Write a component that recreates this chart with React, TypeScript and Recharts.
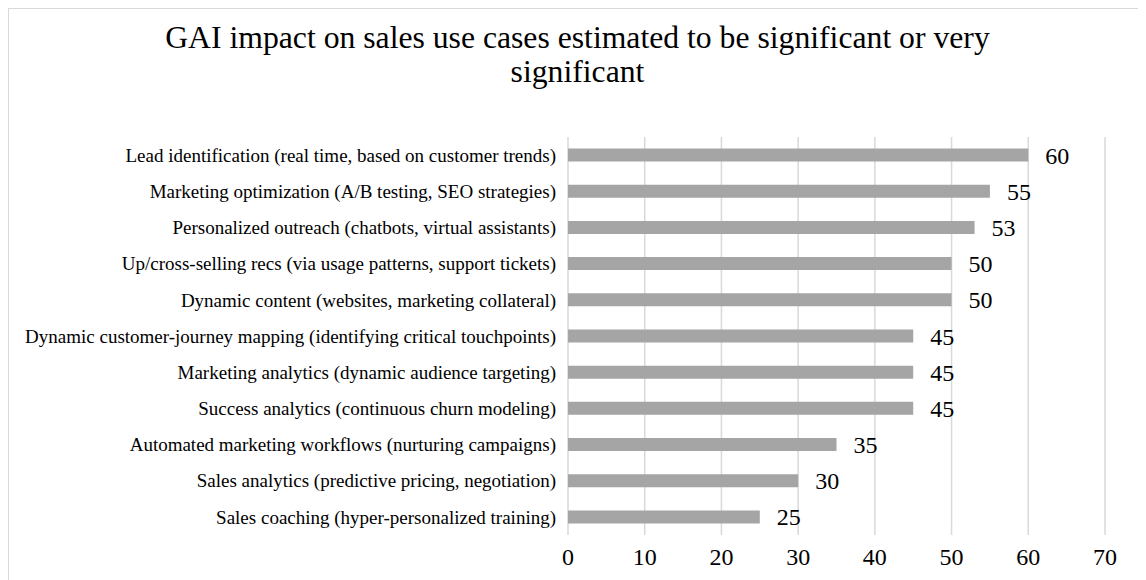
import { BarChart, Bar, XAxis, YAxis, CartesianGrid, LabelList } from "recharts";

const title =
  "GAI impact on sales use cases estimated to be significant or very significant";

const useCases = [
  "Lead identification (real time, based on customer trends)",
  "Marketing optimization (A/B testing, SEO strategies)",
  "Personalized outreach (chatbots, virtual assistants)",
  "Up/cross-selling recs (via usage patterns, support tickets)",
  "Dynamic content (websites, marketing collateral)",
  "Dynamic customer-journey mapping (identifying critical touchpoints)",
  "Marketing analytics (dynamic audience targeting)",
  "Success analytics (continuous churn modeling)",
  "Automated marketing workflows (nurturing campaigns)",
  "Sales analytics (predictive pricing, negotiation)",
  "Sales coaching (hyper-personalized training)",
];

const shares = [60, 55, 53, 50, 50, 45, 45, 45, 35, 30, 25];

const xTicks = [0, 10, 20, 30, 40, 50, 60, 70];

const data = useCases.map((name, i) => ({ name, value: shares[i] }));

const FONT = '"Liberation Serif"';

export default function App() {
  return (
    <div
      style={{
        position: "relative",
        width: 1138,
        height: 572,
        borderTop: "1px solid #d9d9d9",
        borderLeft: "1px solid #d9d9d9",
        boxSizing: "border-box",
        fontFamily: FONT,
        overflow: "hidden",
      }}
    >
      <div
        style={{
          position: "absolute",
          top: 12,
          left: 0,
          width: "100%",
          display: "flex",
          justifyContent: "center",
        }}
      >
        <div
          style={{
            width: 900,
            textAlign: "center",
            fontFamily: FONT,
            fontSize: 31.7,
            lineHeight: "34px",
            color: "#000",
          }}
        >
          {title}
        </div>
      </div>
      <BarChart
        width={1137}
        height={571}
        data={data}
        layout="vertical"
        barCategoryGap="32%"
        margin={{ top: 128, right: 41, bottom: 0, left: 0 }}
        style={{ fontFamily: FONT }}
      >
        <CartesianGrid horizontal={false} stroke="#d9d9d9" strokeWidth={1.5} />
        <XAxis
          type="number"
          domain={[0, 70]}
          ticks={xTicks}
          axisLine={false}
          tickLine={false}
          tickMargin={7}
          height={45}
          tick={{ fontSize: 24, fill: "#000", fontFamily: FONT }}
        />
        <YAxis
          type="category"
          dataKey="name"
          width={559}
          axisLine={false}
          tickLine={false}
          tickMargin={6}
          interval={0}
          tick={{ fontSize: 19, fill: "#000", fontFamily: FONT }}
        />
        <Bar dataKey="value" fill="#a5a5a5" isAnimationActive={false}>
          <LabelList
            dataKey="value"
            position="right"
            offset={17}
            style={{ fontSize: 24, fill: "#000", fontFamily: FONT }}
          />
        </Bar>
      </BarChart>
    </div>
  );
}
